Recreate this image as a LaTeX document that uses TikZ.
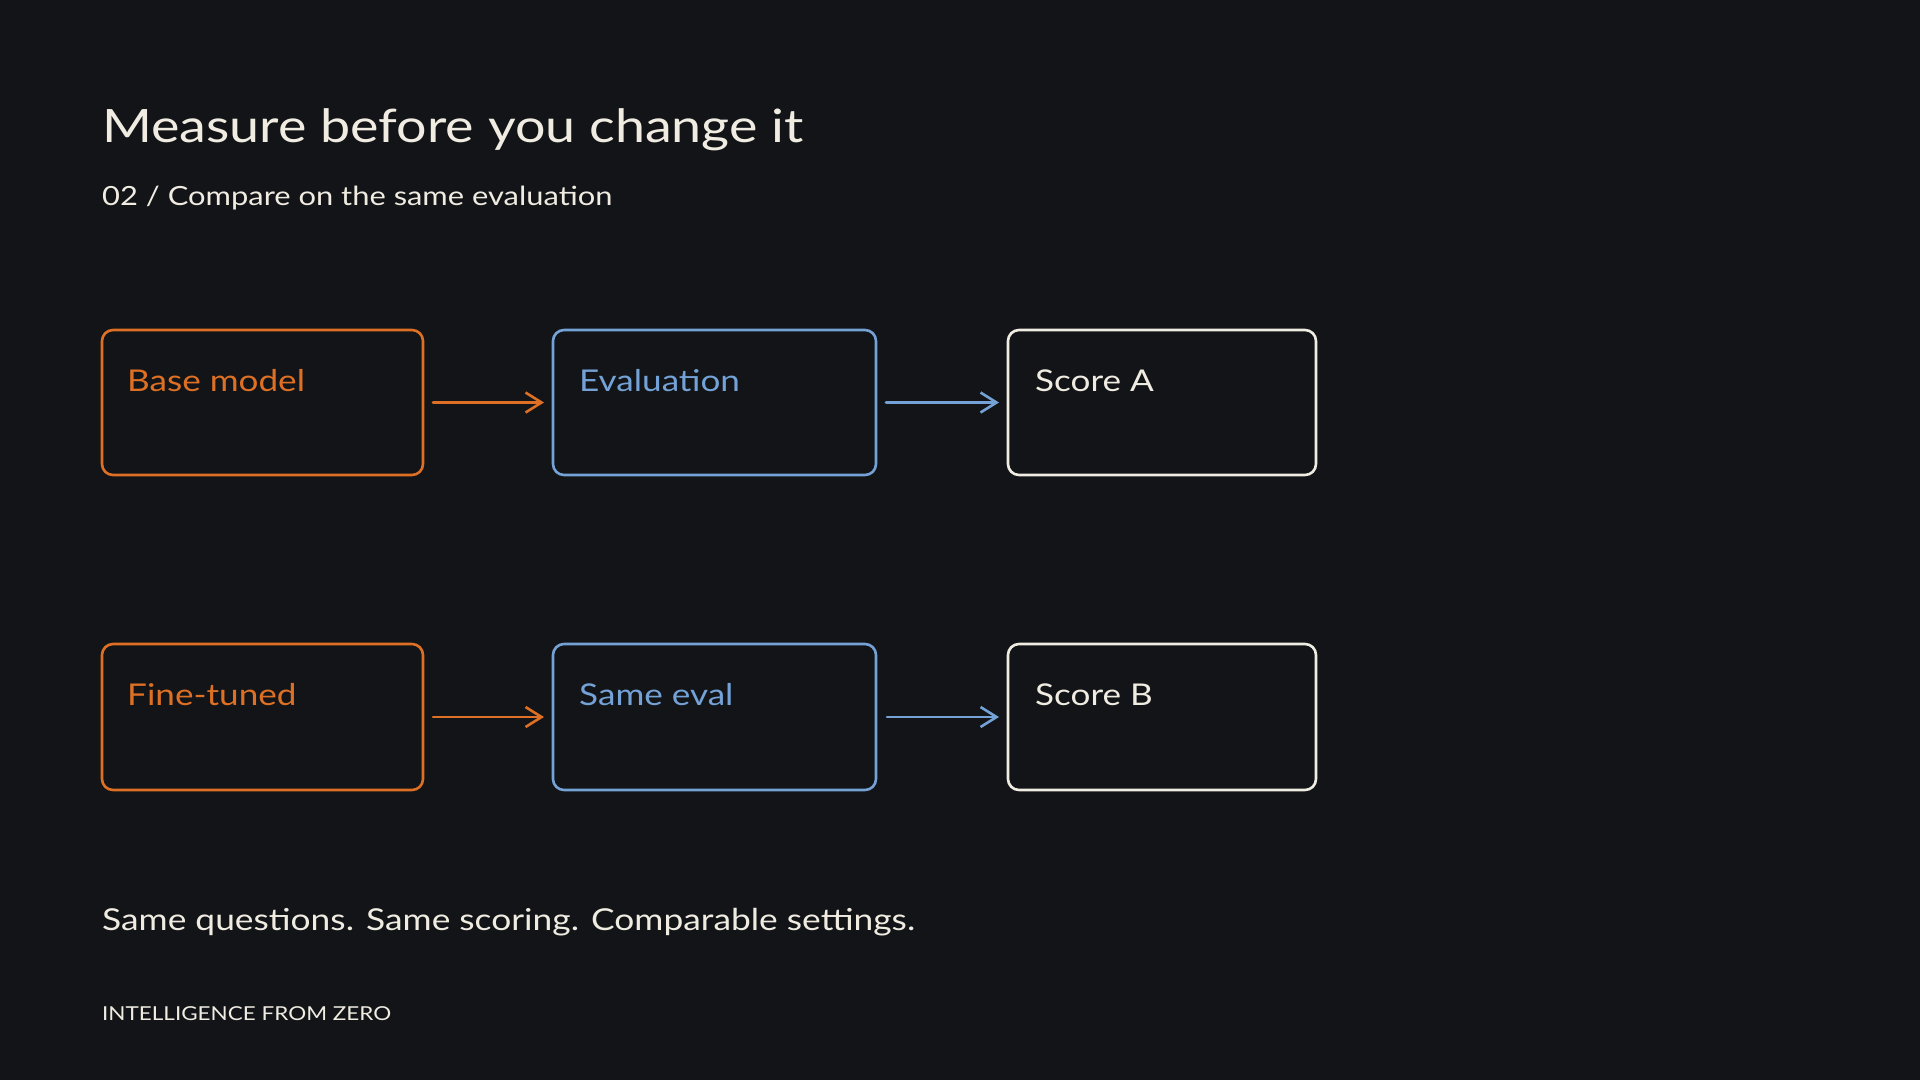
\documentclass[tikz,border=0pt]{standalone}
\usepackage{fontspec}
\setmainfont{Lato}[FakeStretch=1.17]
\usetikzlibrary{arrows.meta,calc}
\definecolor{bgc}{HTML}{121417}
\definecolor{orng}{HTML}{DD7024}
\definecolor{blu}{HTML}{74A2D6}
\definecolor{crm}{HTML}{F0ECE2}
\tikzset{
  x=1pt, y=-1pt,
  sbox/.style={draw=#1, line width=2.6pt, rounded corners=11pt, fill=bgc},
  lbl/.style={text=#1, anchor=base west, inner sep=0pt, font=\fontsize{30}{36}\selectfont},
  conn/.style={draw=#1, line width=2.6pt, line cap=round, -{Straight Barb[length=16pt,width=20pt,line width=2.6pt]}},
  ttl/.style={text=crm, anchor=base west, inner sep=0pt},
}
\begin{document}
\begin{tikzpicture}
\fill[bgc] (0,0) rectangle (1920,1080);
\useasboundingbox (0,0) rectangle (1920,1080);

\node[ttl, font=\fontsize{46}{54}\selectfont] (title) at (102,142) {Measure before you change it};
\node[ttl, font=\fontsize{26.4}{32}\selectfont] (sub) at (102,205) {02 / Compare on the same evaluation};

% row 1
\draw[sbox=orng] (102,330) rectangle (423,475);
\coordinate (b1w) at (102,402.5); \coordinate (b1e) at (423,402.5);
\draw[sbox=blu] (553,330) rectangle (876,475);
\coordinate (b2w) at (553,402.5); \coordinate (b2e) at (876,402.5);
\draw[sbox=crm] (1008,330) rectangle (1316,475);
\coordinate (b3w) at (1008,402.5);

\node[lbl=orng] (t1) at (127,391) {Base model};
\node[lbl=blu] (t2) at (579,391) {Evaluation};
\node[lbl=crm] (t3) at (1035,391) {Score A};

\draw[conn=orng] ($(b1e)+(10,0)$) -- ($(b2w)+(-9,0)$);
\draw[conn=blu] ($(b2e)+(10,0)$) -- ($(b3w)+(-9,0)$);

% row 2
\draw[sbox=orng] (102,644) rectangle (423,790);
\coordinate (c1w) at (102,717); \coordinate (c1e) at (423,717);
\draw[sbox=blu] (553,644) rectangle (876,790);
\coordinate (c2w) at (553,717); \coordinate (c2e) at (876,717);
\draw[sbox=crm] (1008,644) rectangle (1316,790);
\coordinate (c3w) at (1008,717);

\node[lbl=orng] (u1) at (127,705) {Fine-tuned};
\node[lbl=blu] (u2) at (579,705) {Same eval};
\node[lbl=crm] (u3) at (1035,705) {Score B};

\draw[conn=orng] ($(c1e)+(10,0)$) -- ($(c2w)+(-9,0)$);
\draw[conn=blu] ($(c2e)+(11,0)$) -- ($(c3w)+(-9,0)$);

\node[ttl, font=\fontsize{30.2}{37}\selectfont] (note) at (102,930) {Same questions. Same scoring. Comparable settings.};
\node[ttl, font=\fontsize{19.2}{23}\selectfont] (foot) at (102,1020) {INTELLIGENCE FROM ZERO};
\end{tikzpicture}
\end{document}
